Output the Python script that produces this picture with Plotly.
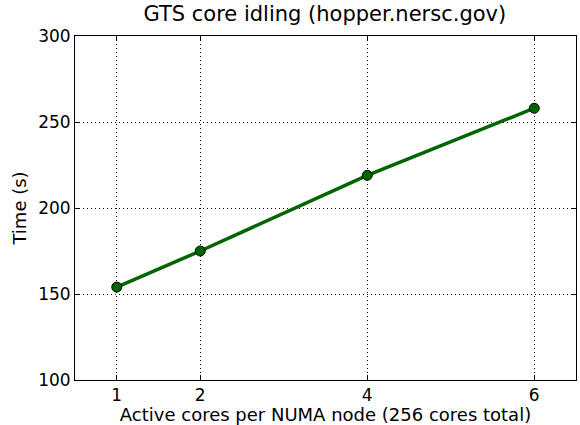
import plotly.graph_objects as go

cores = [1, 2, 4, 6]
times = [154, 175, 219, 258]
x_ticks = [1, 2, 4, 6]
y_ticks = [100, 150, 200, 250, 300]

fig = go.Figure()
fig.add_trace(go.Scatter(
    x=cores, y=times, mode="lines+markers",
    line=dict(color="#006400", width=3.5),
    marker=dict(size=10, color="#006400", line=dict(color="black", width=1)),
    showlegend=False,
))

axis_common = dict(
    showline=True, linecolor="black", linewidth=1, mirror="ticks",
    ticks="inside", ticklen=5, tickcolor="black",
    showgrid=True, gridcolor="black", gridwidth=1, griddash="1px,3px",
    zeroline=False, automargin=False,
    tickfont=dict(family="DejaVu Sans", size=17, color="black"),
)

fig.update_layout(
    width=580, height=425,
    margin=dict(l=75, r=4, t=36, b=45),
    plot_bgcolor="white", paper_bgcolor="white",
    title=dict(text="GTS core idling (hopper.nersc.gov)", x=0.56, xanchor="center",
               y=0.968, yanchor="middle",
               font=dict(family="DejaVu Sans", size=21, color="black")),
    xaxis=dict(range=[0.5, 6.5], tickvals=x_ticks, ticktext=[str(v) for v in x_ticks],
               title=dict(text="Active cores per NUMA node (256 cores total)", standoff=0,
                          font=dict(family="DejaVu Sans", size=18, color="black")),
               **axis_common),
    yaxis=dict(range=[100, 300], tickvals=y_ticks,
               title=dict(text="Time (s)", standoff=6,
                          font=dict(family="DejaVu Sans", size=18, color="black")),
               **axis_common),
)

fig.write_html("out.html", config={"displayModeBar": False},
               post_script="document.body.style.margin='0';document.body.style.overflow='hidden';")
